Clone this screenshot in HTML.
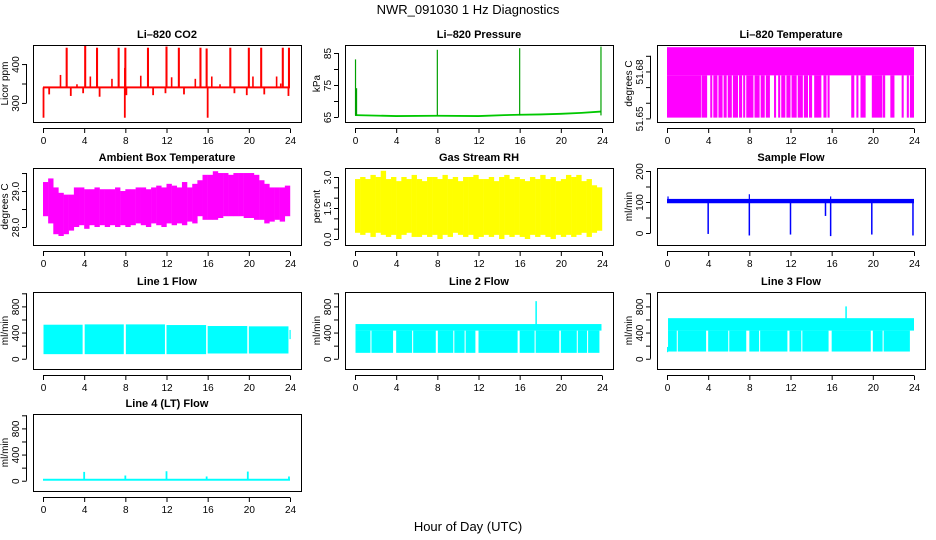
<!DOCTYPE html>
<html><head><meta charset="utf-8"><style>
body{margin:0;background:#fff;}
svg{display:block;font-family:"Liberation Sans",Arial,sans-serif;}
</style></head><body>
<svg id="chart" width="936" height="540" viewBox="0 0 936 540">
<text x="468" y="14" text-anchor="middle" font-size="13">NWR_091030  1 Hz Diagnostics</text>
<text x="468" y="531" text-anchor="middle" font-size="13">Hour of Day (UTC)</text>
</svg>
<script>
// ---- data ----
const xTicks = [0,4,8,12,16,20,24];
// CO2
const co2Base = 340;
const co2SpikeHours = [2.2,4.0,5.15,7.25,7.9,10.1,11.9,13.1,15.2,15.8,18.1,19.9,21.1,23.2,23.8];
const co2SpikeTops = [442,447,442,442,442,442,445,442,442,440,442,442,442,442,442];
const co2MidHours = [1.7,3.3,4.6,6.7,7.95,9.5,12.5,14.8,16.4,17.2,20.4,22.7,23.1];
const co2MidTops = [372,348,368,362,390,370,366,362,368,348,368,368,350];
const co2DipHours = [0.05,0.6,2.7,3.9,5.5,7.95,8.1,10.7,11.9,13.7,16.0,18.6,19.8,21.5,23.85];
const co2DipBottoms = [262,322,318,325,316,262,320,320,325,322,262,325,320,322,318];
// Pressure
const presHours = [0,4,8,12,14.5,16,18,20,22,23.9];
const presBase = [65.6,65.3,65.4,65.3,65.6,65.7,65.8,66.0,66.3,66.7];
const presSpikeHours = [0.05,0.15,8.0,16.0,23.9];
const presSpikeTops = [83,74,86,86.5,87];
// Li-820 temperature
const ltTop = 51.6955, ltMid = 51.6775, ltLow = 51.6505;
const ltFillStart = [0,3.35,4.2,4.5,5.0,5.5,5.9,6.4,7.0,7.4,7.7,8.5,9.1,9.6,10.4,10.8,11.1,11.6,12.1,12.7,13.3,13.8,14.3,15.2,15.6,17.9,18.4,18.8,19.9,20.95,21.7,22.8,23.3,23.6];
const ltFillEnd   = [3.3,3.9,4.4,4.9,5.4,5.8,6.3,6.9,7.3,7.6,8.4,9.0,9.5,10.0,10.6,11.0,11.5,12.0,12.6,13.2,13.7,14.1,15.0,15.5,15.8,18.2,18.6,19.3,20.9,21.2,22.1,23.0,23.5,24];
// Ambient box temperature (0.5 h bins)
const ambHi = [29.25,29.35,29.1,28.95,28.9,28.9,29.1,29.1,29.05,29.05,29.1,29.05,29.05,29.05,29.1,29.0,29.05,29.05,29.1,29.1,29.05,29.1,29.15,29.1,29.2,29.15,29.1,29.25,29.1,29.2,29.3,29.45,29.45,29.55,29.5,29.5,29.45,29.5,29.5,29.5,29.5,29.45,29.3,29.2,29.1,29.1,29.1,29.15];
const ambLo = [28.3,28.1,27.8,27.75,27.8,27.9,28.0,28.05,27.95,28.05,28.0,28.05,28.0,28.05,28.0,28.05,28.0,28.05,28.1,28.05,28.0,28.1,28.05,28.0,28.1,28.05,28.1,28.05,28.15,28.1,28.3,28.2,28.2,28.2,28.25,28.3,28.3,28.3,28.3,28.25,28.25,28.2,28.2,28.1,28.15,28.2,28.15,28.3];
// Gas stream RH (0.5 h bins)
const rhHi = [2.9,3.0,2.9,3.1,3.0,3.3,2.9,3.0,2.8,3.0,2.9,3.1,2.9,2.8,3.0,3.0,2.9,3.1,2.9,3.0,2.8,3.0,3.0,3.1,2.9,2.9,3.0,2.8,3.0,3.1,2.9,3.0,2.9,2.8,3.0,2.9,3.1,2.9,3.0,2.8,2.9,3.1,3.0,3.1,2.8,2.9,2.6,2.5];
const rhLo = [0.3,0.2,0.3,0.1,0.3,0.2,0.1,0.2,0.0,0.2,0.3,0.1,0.1,0.2,0.1,0.2,0.0,0.2,0.1,0.3,0.2,0.1,0.2,0.0,0.1,0.2,0.1,0.2,0.0,0.2,0.1,0.2,0.1,0.0,0.2,0.1,0.2,0.1,0.0,0.2,0.1,0.2,0.1,0.2,0.3,0.1,0.3,0.4];
// Sample flow
const sfLo = 96, sfHi = 110;
const sfDipHours = [4.0,8.0,12.0,15.4,15.9,19.9,23.9];
const sfDipBottoms = [-3,-8,-5,55,-10,-5,-8];
const sfSpikeHours = [0.1,8.0,15.9];
const sfSpikeTops = [118,125,118];
// Line flows: upper continuous band and lower segments
const l1SegStart = [0.05,4.05,8.05,12.0,16.0,20.0,23.95];
const l1SegEnd   = [3.85,7.85,11.85,15.85,19.85,23.85,24.0];
const l1SegHi    = [520,525,525,515,500,495,440];
const l1SegLo    = [70,70,70,70,80,80,300];
const l2Upper = [430,530];
const l2SegStart = [0.05,1.6,4.0,5.65,8.05,9.65,10.75,12.0,16.0,17.55,20.0,21.65,22.65];
const l2SegEnd   = [1.5,3.7,5.55,7.85,9.55,10.65,11.7,15.8,17.45,19.85,21.55,22.55,23.75];
const l2Lo = 90;
const l2SpikeHour = [17.6], l2SpikeTop = [880];
const l3Upper = [430,620];
const l3SegStart = [0.1,1.05,4.0,6.05,8.0,9.05,11.9,13.15,16.0,20.0,21.05];
const l3SegEnd   = [0.95,3.8,5.95,7.7,8.95,11.7,13.05,15.7,19.8,20.95,23.6];
const l3Lo = 110;
const l3SpikeHour = [17.4], l3SpikeTop = [800];
// Line 4
const l4Lo = 0, l4Hi = 30;
const l4SpikeHours = [4.0,8.0,12.0,15.9,19.9,23.9];
const l4SpikeTops = [135,80,145,65,140,65];

// ---- layout ----
const NS = "http://www.w3.org/2000/svg";
const svg = document.getElementById("chart");
const colL = [33,345,657], rowT = [45,168,292,414], W = 268, H = 77;
function mk(tag, attrs, parent){ const e = document.createElementNS(NS, tag); for (const k in attrs) e.setAttribute(k, attrs[k]); (parent||svg).appendChild(e); return e; }

function panel(c, r, name, title, ylab, ymin, ymax, yt, ylabels){
  const L = colL[c], T = rowT[r], B = T + H;
  const g = mk("g", {});
  
  
  const sx = h => L + 10 + h / 24 * 247;
  const sy = v => B - (v - ymin) / (ymax - ymin) * H;
  const cp = mk("clipPath", {id: "cp" + name}, g);
  mk("rect", {x: L, y: T, width: W, height: H}, cp);
  const plot = mk("g", {"clip-path": "url(#cp" + name + ")"}, g);
  
  
  const box = mk("rect", {x: L+0.5, y: T+0.5, width: W, height: H, fill: "none", stroke: "#000", "stroke-width": 1}, g);
  
  
  const t = mk("text", {x: L + W/2, y: T - 7, "text-anchor": "middle", "font-size": 11, "font-weight": "bold"}, g);
  t.textContent = title;
  
  
  mk("line", {x1: sx(0), x2: sx(24), y1: B + 6.5, y2: B + 6.5, stroke: "#000"}, g);
  xTicks.forEach(h => {
    mk("line", {x1: sx(h)+0.5, x2: sx(h)+0.5, y1: B + 6.5, y2: B + 11, stroke: "#000"}, g);
    const tl = mk("text", {x: sx(h)+0.5, y: B + 22, "text-anchor": "middle", "font-size": 10}, g);
    tl.textContent = h;
    
    
  });
  mk("line", {x1: L - 6.5, x2: L - 6.5, y1: sy(yt[0]), y2: sy(yt[yt.length-1]), stroke: "#000"}, g);
  yt.forEach((v, i) => {
    mk("line", {x1: L - 11, x2: L - 6.5, y1: sy(v)+0.5, y2: sy(v)+0.5, stroke: "#000"}, g);
    if (ylabels[i] !== "") {
      const tl = mk("text", {x: 0, y: 0, "text-anchor": "middle", "font-size": 10, transform: "translate(" + (L - 14) + "," + (sy(v)+0.5) + ") rotate(-90)"}, g);
      tl.textContent = ylabels[i];
      
      
    }
  });
  const yl = mk("text", {x: 0, y: 0, "text-anchor": "middle", "font-size": 10, transform: "translate(" + (L - 25) + "," + (T + H/2) + ") rotate(-90)"}, g);
  yl.textContent = ylab;
  
  
  return {sx, sy, plot};
}
function vbar(p, h0, h1, v0, v1, col){
  const x0 = p.sx(h0), x1 = p.sx(h1), ya = p.sy(Math.max(v0, v1)), yb = p.sy(Math.min(v0, v1));
  return mk("rect", {x: x0, y: ya, width: Math.max(x1 - x0, 1.2), height: Math.max(yb - ya, 1), fill: col}, p.plot);
}
function vline(p, h, v0, v1, col, w){
  return mk("line", {x1: p.sx(h), x2: p.sx(h), y1: p.sy(v0), y2: p.sy(v1), stroke: col, "stroke-width": w || 1.5}, p.plot);
}

(function(){
  const p = panel(0,0,"co2","Li\u2013820 CO2","Licor ppm",251,449,[300,350,400],["300","","400"]);
  vbar(p,0,24,co2Base-2.5,co2Base+2.5,"#f00");
  co2SpikeHours.forEach((h,i)=>vbar(p,h,h+0.2,co2Base,co2SpikeTops[i],"#f00"));
  co2MidHours.forEach((h,i)=>vline(p,h,co2Base,co2MidTops[i],"#f00",1.6));
  co2DipHours.forEach((h,i)=>vline(p,h,co2Base,co2DipBottoms[i],"#f00",1.8));
})();
(function(){
  const p = panel(1,0,"pressure","Li\u2013820 Pressure","kPa",63.44,87.5,[65,70,75,80,85],["65","","75","","85"]);
  const pts = presHours.map((h,i)=>p.sx(h)+","+p.sy(presBase[i])).join(" ");
  mk("polyline",{points:pts,fill:"none",stroke:"#00c800","stroke-width":1.8},p.plot);
  presSpikeHours.forEach((h,i)=>vline(p,h,65.5,presSpikeTops[i],"#00a000",1.2));
})();
(function(){
  const p = panel(2,0,"li820-temperature","Li\u2013820 Temperature","degrees C",51.6477,51.6969,[51.65,51.66,51.67,51.68,51.69],["51.65","","","51.68",""]);
  vbar(p,0,24,ltMid,ltTop,"#f0f");
  ltFillStart.forEach((s,i)=>vbar(p,s,ltFillEnd[i],ltLow,ltMid,"#f0f"));
})();
(function(){
  const p = panel(0,1,"ambient-temperature","Ambient Box Temperature","degrees C",27.5,29.64,[28,28.5,29,29.5],["28.0","","29.0",""]);
  ambHi.forEach((v,i)=>vbar(p,i*0.5,i*0.5+0.52,ambLo[i],v,"#f0f"));
})();
(function(){
  const p = panel(1,1,"gas-stream-rh","Gas Stream RH","percent",-0.29,3.435,[0,0.5,1,1.5,2,2.5,3],["0.0","","","1.5","","","3.0"]);
  rhHi.forEach((v,i)=>vbar(p,i*0.5,i*0.5+0.52,rhLo[i],v,"#ff0"));
})();
(function(){
  const p = panel(2,1,"sample-flow","Sample Flow","ml/min",-38.7,209.7,[0,50,100,150,200],["0","","100","","200"]);
  vbar(p,0,24,sfLo,sfHi,"#00f");
  sfDipHours.forEach((h,i)=>vline(p,h,100,sfDipBottoms[i],"#00f",1.5));
  sfSpikeHours.forEach((h,i)=>vline(p,h,100,sfSpikeTops[i],"#00f",1.2));
})();
const flowTicks=[0,200,400,600,800,1000], flowLabels=["0","","400","","800",""];
(function(){
  const p = panel(0,2,"line1-flow","Line 1 Flow","ml/min",-157,1020,flowTicks,flowLabels);
  l1SegStart.forEach((s,i)=>vbar(p,s,l1SegEnd[i],l1SegLo[i],l1SegHi[i],"#0ff"));
})();
(function(){
  const p = panel(1,2,"line2-flow","Line 2 Flow","ml/min",-157,1020,flowTicks,flowLabels);
  vbar(p,0.05,23.95,l2Upper[0],l2Upper[1],"#0ff");
  l2SegStart.forEach((s,i)=>vbar(p,s,l2SegEnd[i],l2Lo,l2Upper[0],"#0ff"));
  l2SpikeHour.forEach((h,i)=>vline(p,h,500,l2SpikeTop[i],"#0ff",1.5));
})();
(function(){
  const p = panel(2,2,"line3-flow","Line 3 Flow","ml/min",-157,1020,flowTicks,flowLabels);
  vbar(p,0.1,24,l3Upper[0],l3Upper[1],"#0ff");
  vbar(p,0,0.1,100,180,"#0ff");
  l3SegStart.forEach((s,i)=>vbar(p,s,l3SegEnd[i],l3Lo,l3Upper[0],"#0ff"));
  l3SpikeHour.forEach((h,i)=>vline(p,h,600,l3SpikeTop[i],"#0ff",1.5));
})();
(function(){
  const p = panel(0,3,"line4-flow","Line 4 (LT) Flow","ml/min",-157,1020,flowTicks,flowLabels);
  vbar(p,0,24,l4Lo,l4Hi,"#0ff");
  l4SpikeHours.forEach((h,i)=>vline(p,h,20,l4SpikeTops[i],"#0ff",1.8));
})();
</script>
</body></html>
